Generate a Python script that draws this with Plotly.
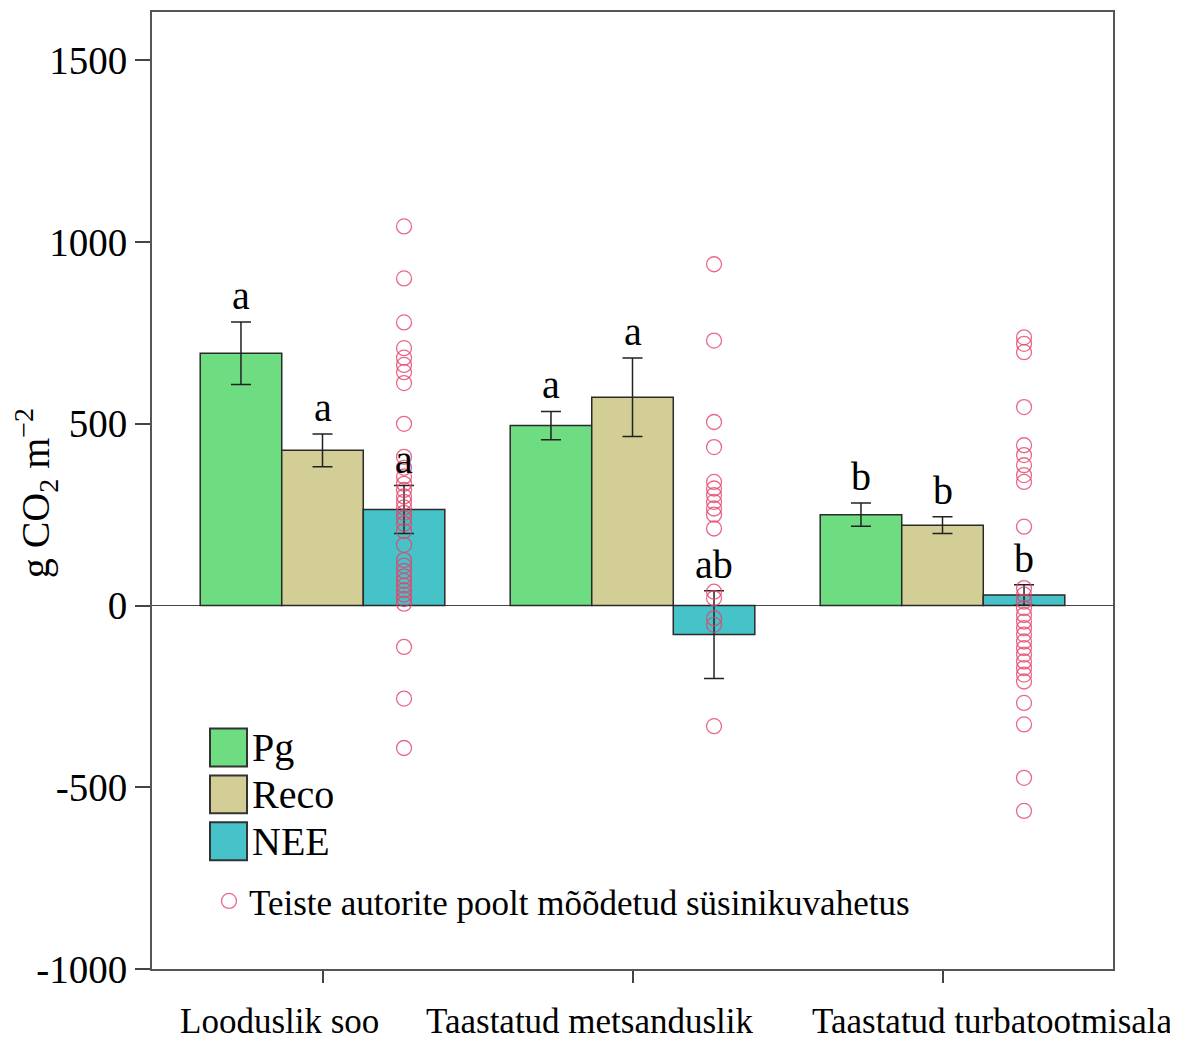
import plotly.graph_objects as go

# ---------------- data ----------------
groups = ["Looduslik soo", "Taastatud metsanduslik", "Taastatud turbatootmisala"]
series = ["Pg", "Reco", "NEE"]

pg = [694, 495, 250]
pg_err = [86, 39, 32]
reco = [427, 573, 221]
reco_err = [45, 108, 23]
nee = [264, -80, 29]
nee_err = [66, 121, 28]

pg_letters = ["a", "a", "b"]
reco_letters = ["a", "a", "b"]
nee_letters = ["a", "ab", "b"]

# values measured by other authors (drawn at the NEE bar of each group)
lit_looduslik = [1043, 900, 779, 708, 682, 662, 642, 612, 500, 409, 379, 355, 335,
                 318, 300, 285, 270, 255, 240, 225, 205, 167, 125, 110, 95, 80, 68,
                 55, 42, 30, 18, 5, -114, -256, -392]
lit_metsandus = [939, 729, 505, 436, 340, 322, 304, 285, 267, 250, 212, 38, 20,
                 -35, -53, -332]
lit_turba = [738, 720, 697, 546, 441, 414, 386, 359, 340, 217, 48, 30, 11, -7, -26,
             -44, -62, -80, -99, -117, -135, -154, -172, -190, -209, -268, -327,
             -474, -565]
lit_label = "Teiste autorite poolt mõõdetud süsinikuvahetus"

y_ticks = [-1000, -500, 0, 500, 1000, 1500]
y_ticktext = ["-1000", "-500", "0", "500", "1000", "1500"]
y_title = "g CO<sub>2</sub> m<sup>−2</sup>"

# ---------------- style ----------------
COLORS = ["#6EDC80", "#D3CE96", "#46C3C8"]
DOT_COLOR = "#E4426B"
SERIF = "Liberation Serif, Times New Roman, serif"
EDGE = "#2a2a2a"
BARGAP = 0.211
W = (1 - BARGAP) / 3  # width of one bar in axis units

# page body has an 8px margin; canvas is sized so the plot sits where the original does
FIG_W, FIG_H = 1170, 1032
M_L, M_R, M_T, M_B = 144, 65, 2, 71
PW = FIG_W - M_L - M_R
PH = FIG_H - M_T - M_B

xidx = list(range(len(groups)))

fig = go.Figure()
for name, vals, errs, col in zip(series, [pg, reco, nee], [pg_err, reco_err, nee_err], COLORS):
    fig.add_trace(go.Bar(
        x=xidx, y=vals, name=name, showlegend=False,
        marker=dict(color=col, line=dict(color=EDGE, width=1.5)),
        error_y=dict(type="data", array=errs, visible=True, color="#222",
                     thickness=1.5, width=10),
    ))

# literature points as open circles
lit_x, lit_y = [], []
for gi, arr in enumerate([lit_looduslik, lit_metsandus, lit_turba]):
    lit_x += [gi + W] * len(arr)
    lit_y += arr
fig.add_trace(go.Scatter(
    x=lit_x, y=lit_y, mode="markers", name=lit_label, showlegend=True,
    marker=dict(symbol="circle-open", size=15, color=DOT_COLOR, opacity=0.8,
                line=dict(width=1.3, color=DOT_COLOR)),
    cliponaxis=False,
))

# significance letters
annotations = []
for k, (vals, errs, letters) in enumerate(zip([pg, reco, nee], [pg_err, reco_err, nee_err],
                                              [pg_letters, reco_letters, nee_letters])):
    for gi in xidx:
        annotations.append(dict(
            x=gi + (k - 1) * W, y=vals[gi] + errs[gi], xref="x", yref="y",
            text=letters[gi], showarrow=False, yanchor="bottom", xanchor="center",
            yshift=2, font=dict(family=SERIF, size=40, color="black"),
        ))

# category labels (offset as in the original)
label_shift = [-43, -43, 50]
for gi, g in enumerate(groups):
    annotations.append(dict(
        x=gi, y=0, xref="x", yref="paper", text=g, showarrow=False,
        xanchor="center", yanchor="top", xshift=label_shift[gi], yshift=-31,
        font=dict(family=SERIF, size=35, color="black"),
    ))

# y axis title
annotations.append(dict(
    x=0, y=0.497, xref="paper", yref="paper", text=y_title, showarrow=False,
    textangle=-90, xanchor="center", yanchor="middle", xshift=-116,
    font=dict(family=SERIF, size=40, color="black"),
))

# bar legend (large swatches)
def px(xp):
    return (xp - 152) / PW
def py(yp):
    return (969 - yp) / PH

shapes = []
box_tops = [728, 775, 822]
for name, col, top in zip(series, COLORS, box_tops):
    shapes.append(dict(type="rect", xref="paper", yref="paper",
                       x0=px(210), x1=px(247), y0=py(top + 38), y1=py(top),
                       fillcolor=col, line=dict(color="#333", width=2)))
    annotations.append(dict(x=px(250), y=py(top + 19), xref="paper", yref="paper",
                            text=name, showarrow=False, xanchor="left", yanchor="middle",
                            font=dict(family=SERIF, size=40, color="black")))

fig.update_layout(
    width=FIG_W, height=FIG_H,
    margin=dict(l=M_L, r=M_R, t=M_T, b=M_B),
    paper_bgcolor="white", plot_bgcolor="white",
    barmode="group", bargap=BARGAP, bargroupgap=0,
    annotations=annotations, shapes=shapes,
    showlegend=True,
    legend=dict(x=px(209), y=py(901), xanchor="left", yanchor="middle",
                bgcolor="rgba(0,0,0,0)", borderwidth=0,
                font=dict(family=SERIF, size=35, color="black"),
                itemsizing="trace"),
)
fig.update_xaxes(
    range=[-0.55, 2.55], tickvals=xidx, showticklabels=False,
    ticks="outside", ticklen=12, tickwidth=1.5, tickcolor="#444",
    showline=True, linecolor="#555", linewidth=1.5, mirror=True,
    showgrid=False, zeroline=False, fixedrange=True,
)
fig.update_yaxes(
    range=[-1000, 1633], tickvals=y_ticks, ticktext=y_ticktext,
    ticks="outside", ticklen=15, tickwidth=1.5, tickcolor="#444",
    tickfont=dict(family=SERIF, size=39, color="black"),
    showline=True, linecolor="#555", linewidth=2, mirror=True,
    showgrid=False, zeroline=True, zerolinecolor="#444", zerolinewidth=1,
)

fig.write_html("out.html")
